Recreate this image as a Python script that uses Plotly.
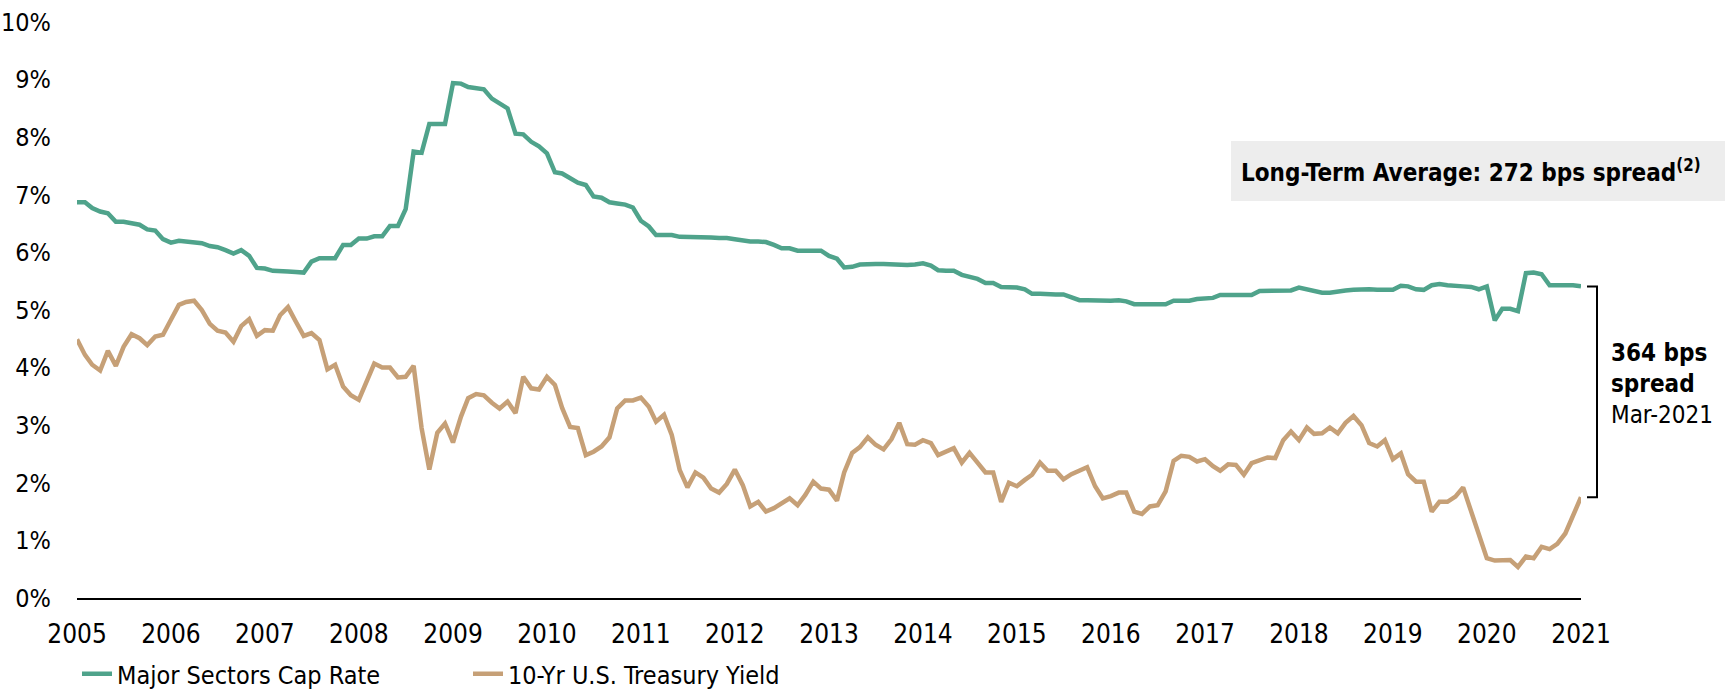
import pandas as pd
import plotly.graph_objects as go

# ---------------- data (monthly) ----------------
dates = pd.date_range("2005-01-01", "2021-01-01", freq="MS")

cap_rate = [
    6.87, 6.87, 6.77, 6.71, 6.68, 6.53, 6.53, 6.50, 6.48, 6.40,
    6.38, 6.23, 6.17, 6.20, 6.19, 6.18, 6.16, 6.11, 6.09, 6.04,
    5.98, 6.04, 5.94, 5.73, 5.72, 5.68, 5.68, 5.67, 5.66, 5.65,
    5.84, 5.90, 5.90, 5.90, 6.13, 6.13, 6.24, 6.24, 6.28, 6.28,
    6.46, 6.46, 6.75, 7.75, 7.73, 8.23, 8.23, 8.23, 8.94, 8.93,
    8.87, 8.85, 8.83, 8.67, 8.59, 8.50, 8.06, 8.05, 7.92, 7.84,
    7.72, 7.39, 7.37, 7.29, 7.21, 7.17, 6.97, 6.95, 6.87, 6.85,
    6.83, 6.78, 6.55, 6.45, 6.30, 6.30, 6.30, 6.27, 6.27, 6.26,
    6.26, 6.26, 6.25, 6.25, 6.23, 6.21, 6.19, 6.19, 6.18, 6.13,
    6.07, 6.07, 6.03, 6.03, 6.03, 6.03, 5.94, 5.89, 5.74, 5.75,
    5.79, 5.80, 5.80, 5.80, 5.79, 5.79, 5.78, 5.79, 5.81, 5.77,
    5.69, 5.68, 5.68, 5.61, 5.57, 5.54, 5.47, 5.47, 5.40, 5.40,
    5.39, 5.36, 5.28, 5.28, 5.27, 5.27, 5.27, 5.22, 5.17, 5.17,
    5.16, 5.16, 5.16, 5.17, 5.15, 5.10, 5.10, 5.10, 5.10, 5.10,
    5.16, 5.16, 5.16, 5.19, 5.20, 5.21, 5.26, 5.26, 5.26, 5.26,
    5.26, 5.33, 5.33, 5.33, 5.34, 5.34, 5.39, 5.36, 5.33, 5.30,
    5.30, 5.33, 5.34, 5.35, 5.36, 5.36, 5.35, 5.35, 5.35, 5.42,
    5.41, 5.36, 5.35, 5.43, 5.45, 5.43, 5.41, 5.41, 5.40, 5.36,
    5.41, 4.82, 5.02, 5.02, 4.98, 5.64, 5.65, 5.62, 5.43, 5.43,
    5.43, 5.43, 5.41,
]

treasury = [
    4.49, 4.22, 4.05, 3.95, 4.29, 4.03, 4.36, 4.58, 4.51, 4.39,
    4.54, 4.57, 4.83, 5.09, 5.14, 5.16, 5.00, 4.76, 4.64, 4.61,
    4.45, 4.72, 4.84, 4.55, 4.65, 4.64, 4.91, 5.05, 4.80, 4.55,
    4.60, 4.48, 3.97, 4.05, 3.67, 3.52, 3.44, 3.76, 4.07, 4.00,
    4.00, 3.83, 3.84, 4.03, 2.95, 2.23, 2.87, 3.03, 2.70, 3.15,
    3.47, 3.54, 3.52, 3.39, 3.29, 3.41, 3.21, 3.84, 3.64, 3.62,
    3.84, 3.70, 3.30, 2.97, 2.95, 2.48, 2.54, 2.63, 2.79, 3.29,
    3.43, 3.43, 3.48, 3.32, 3.06, 3.18, 2.83, 2.22, 1.92, 2.18,
    2.09, 1.90, 1.83, 1.98, 2.23, 1.96, 1.59, 1.67, 1.50, 1.56,
    1.65, 1.73, 1.61, 1.79, 2.02, 1.90, 1.88, 1.69, 2.18, 2.52,
    2.62, 2.79, 2.66, 2.58, 2.76, 3.04, 2.67, 2.66, 2.74, 2.69,
    2.48, 2.54, 2.60, 2.35, 2.52, 2.35, 2.18, 2.18, 1.67, 2.00,
    1.94, 2.05, 2.14, 2.35, 2.21, 2.21, 2.06, 2.15, 2.21, 2.27,
    1.94, 1.73, 1.77, 1.83, 1.83, 1.50, 1.46, 1.59, 1.61, 1.85,
    2.38, 2.47, 2.45, 2.37, 2.41, 2.29, 2.21, 2.32, 2.31, 2.14,
    2.34, 2.40, 2.44, 2.43, 2.74, 2.89, 2.74, 2.96, 2.85, 2.86,
    2.96, 2.86, 3.04, 3.16, 3.00, 2.69, 2.63, 2.74, 2.41, 2.51,
    2.15, 2.02, 2.02, 1.50, 1.67, 1.67, 1.76, 1.92, 1.50, 1.09,
    0.69, 0.65, 0.65, 0.66, 0.54, 0.72, 0.69, 0.89, 0.85, 0.94,
    1.12, 1.45, 1.75,
]

year_labels = [str(y) for y in range(2005, 2022)]
year_ticks = [f"{y}-01-01" for y in range(2005, 2022)]
pct_ticks = list(range(0, 11))
pct_labels = [f"{v}%" for v in pct_ticks]

series_names = ["Major Sectors Cap Rate", "10-Yr U.S. Treasury Yield"]
box_text = "<b>Long-Term Average: 272 bps spread<sup>(2)</sup></b>"
spread_text = "<b>364 bps</b><br><b>spread</b><br>Mar-2021"

# ---------------- styling ----------------
FONT = "DejaVu Sans Condensed, DejaVu Sans, sans-serif"
GREEN = "#4FA38B"
TAN = "#C6A077"
W, H = 1735, 691
ML, MR, MT, MB = 77, 154, 22, 93
PW, PH = W - ML - MR, H - MT - MB


def px_x(p):
    return (p - ML) / PW


def px_y(p):
    return (H - MB - p) / PH


fig = go.Figure()
fig.add_trace(go.Scatter(x=dates, y=cap_rate, mode="lines", name=series_names[0],
                         line=dict(color=GREEN, width=4.5)))
fig.add_trace(go.Scatter(x=dates, y=treasury, mode="lines", name=series_names[1],
                         line=dict(color=TAN, width=4.5)))

fig.update_layout(
    width=W, height=H, autosize=False,
    margin=dict(l=ML, r=MR, t=MT, b=MB, autoexpand=False),
    paper_bgcolor="white", plot_bgcolor="white",
    font=dict(family=FONT, size=24, color="#000000"),
    showlegend=True,
    legend=dict(orientation="h", x=px_x(77), y=px_y(674), xanchor="left", yanchor="middle",
                font=dict(size=25, color="#000000"), entrywidth=346, entrywidthmode="pixels",
                bgcolor="rgba(0,0,0,0)", itemwidth=30),
    xaxis=dict(range=[dates[0], dates[-1]], tickvals=year_ticks, ticktext=year_labels,
               showline=True, linecolor="#000000", linewidth=2, ticks="",
               showgrid=False, zeroline=False, tickfont=dict(size=26, color="#000000"),
               ticklabelstandoff=12, automargin=False),
    yaxis=dict(range=[0, 10], tickvals=pct_ticks, ticktext=pct_labels,
               showline=False, showgrid=False, zeroline=False, ticks="",
               tickfont=dict(size=25, color="#000000"), ticklabelstandoff=25,
               automargin=False),
)

# grey box for the long-term average note (box hugs the text with padding)
fig.add_annotation(xref="paper", yref="paper", x=px_x(1231), y=px_y(171),
                   xanchor="left", yanchor="middle", showarrow=False, align="left",
                   text=box_text, font=dict(size=24, color="#000000"),
                   bgcolor="#EDEDED", borderpad=10, borderwidth=0,
                   width=474, height=40)

# bracket between last values of the two series
xa, xb = px_x(1587), px_x(1597)
ytop, ybot = cap_rate[-1], treasury[-1]
fig.add_shape(type="path", xref="paper", yref="y",
              path=f"M {xa},{ytop} L {xb},{ytop} L {xb},{ybot} L {xa},{ybot}",
              line=dict(color="#000000", width=2))
fig.add_annotation(xref="paper", yref="paper", x=px_x(1609), y=px_y(384),
                   xanchor="left", yanchor="middle", align="left", showarrow=False,
                   text=spread_text, font=dict(size=24, color="#000000"))

fig.write_html("out.html", config={"displayModeBar": False},
               post_script="document.body.style.margin='0px';document.body.style.overflow='hidden';")
